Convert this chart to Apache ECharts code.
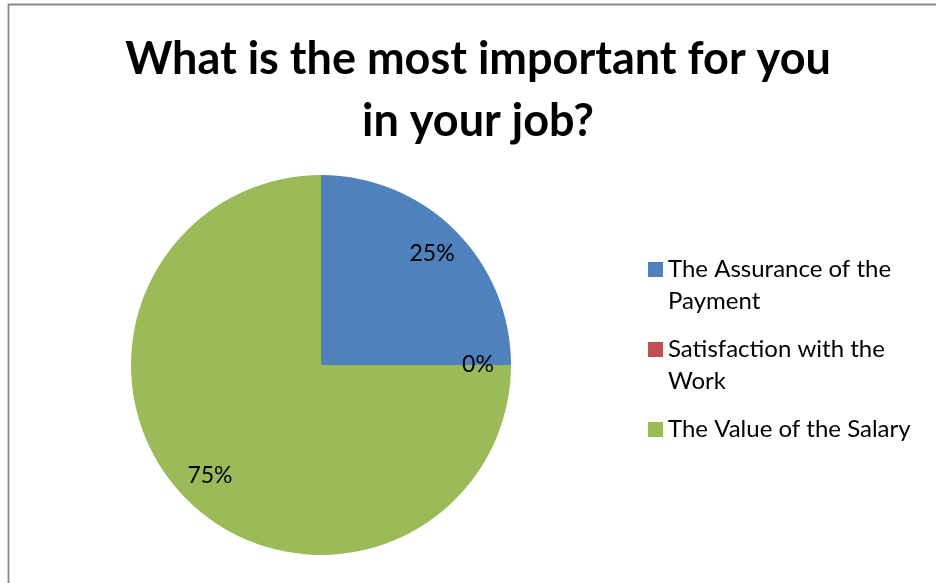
<!DOCTYPE html>
<html>
<head>
<meta charset="utf-8">
<script src="https://cdn.jsdelivr.net/npm/echarts@6/dist/echarts.min.js"></script>
<style>
  html, body { margin: 0; padding: 0; background: #fff; }
  #chart { width: 936px; height: 583px; }
</style>
</head>
<body>
<div id="chart"></div>
<script>
// Survey answers: share of respondents per category
const categories = ['The Assurance of the Payment', 'Satisfaction with the Work', 'The Value of the Salary'];
const shares = [25, 0, 75];
// Wrapped legend captions
const legendLabels = ['The Assurance of the\nPayment', 'Satisfaction with the\nWork', 'The Value of the Salary'];
const colors = ['#4F81BD', '#C0504D', '#9BBB59'];

const FONT = 'Lato, "Open Sans", sans-serif';
const LINE = 32;

const pieData = categories.map((name, i) => ({ name, value: shares[i], itemStyle: { color: colors[i] } }));

// Legend captions are centred on the swatch, so an empty line is added
// before the caption (and after a one-line caption) to keep the swatch
// level with the first caption line and all items the same height.
function legendCaption(name) {
  const text = legendLabels[categories.indexOf(name)];
  return text.indexOf('\n') >= 0 ? '\n' + text : '\n' + text + '\n';
}

const chart = echarts.init(document.getElementById('chart'), null, { renderer: 'canvas' });
chart.setOption({
  animation: false,
  backgroundColor: '#ffffff',
  graphic: [{
    type: 'rect',
    silent: true,
    shape: { x: 8.5, y: 4.5, width: 1000, height: 700 },
    style: { fill: 'none', stroke: '#8a8a8a', lineWidth: 1.8 }
  }],
  title: {
    text: 'What is the most important for you\nin your job?',
    left: 473,
    textAlign: 'center',
    top: 23,
    textStyle: {
      fontFamily: FONT,
      fontWeight: 'bold',
      fontSize: 45,
      lineHeight: 62,
      color: '#000'
    }
  },
  legend: {
    orient: 'vertical',
    left: 648,
    top: 221.5,
    padding: 0,
    itemGap: -16,
    icon: 'rect',
    itemWidth: 15,
    itemHeight: 15,
    selectedMode: false,
    data: categories,
    formatter: legendCaption,
    textStyle: {
      fontFamily: FONT,
      fontSize: 24,
      lineHeight: LINE,
      color: '#000'
    }
  },
  series: [
    {
      type: 'pie',
      center: [321, 365],
      radius: 190,
      startAngle: 90,
      clockwise: true,
      silent: true,
      label: { show: false },
      labelLine: { show: false },
      itemStyle: { borderWidth: 0 },
      data: pieData
    },
    {
      // transparent ring carrying the percentage labels
      type: 'pie',
      center: [321, 365],
      radius: [116, 192],
      startAngle: 90,
      clockwise: true,
      silent: true,
      legendHoverLink: false,
      itemStyle: { color: 'rgba(0,0,0,0)', borderWidth: 0 },
      label: {
        show: true,
        position: 'inside',
        formatter: '{d}%',
        fontFamily: FONT,
        fontSize: 23,
        color: '#000'
      },
      labelLine: { show: false },
      data: categories.map((name, i) => ({ name, value: shares[i] }))
    }
  ]
});
</script>
</body>
</html>
